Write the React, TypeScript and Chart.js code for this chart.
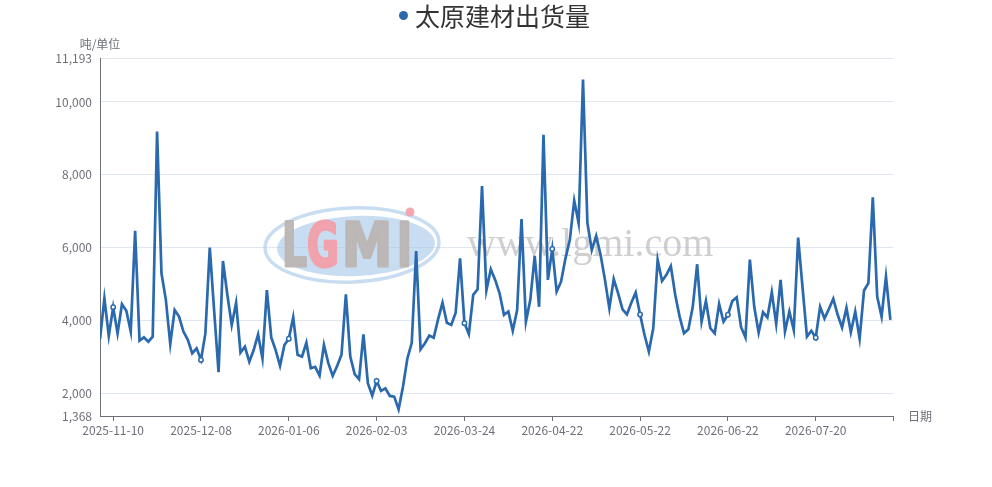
import React, { useEffect, useRef } from "react";
import { Chart, registerables } from "chart.js";

Chart.register(...registerables);

const seriesName = "太原建材出货量";
const yAxisName = "吨/单位";
const xAxisName = "日期";

// x tick labels shown every 20 trading days, starting at point index 3
const tickLabels = [
  "2025-11-10",
  "2025-12-08",
  "2026-01-06",
  "2026-02-03",
  "2026-03-24",
  "2026-04-22",
  "2026-05-22",
  "2026-06-22",
  "2026-07-20",
];
const firstTickIndex = 3;
const tickEvery = 20;
const xAxisEnd = 180.6;

const yTickValues = [1368, 2000, 4000, 6000, 8000, 10000, 11193];

const shipments = [
  3480, 4600, 3570, 4360, 3640, 4440, 4260, 3690, 6460, 3440,
  3530, 3410, 3550, 9190, 5290, 4560, 3350, 4280, 4100, 3690,
  3460, 3090, 3230, 2910, 3640, 6000, 4250, 2570, 5630, 4700,
  3870, 4480, 3110, 3270, 2860, 3180, 3610, 2950, 4830, 3530,
  3180, 2750, 3320, 3490, 4080, 3050, 3000, 3380, 2680, 2720,
  2480, 3320, 2820, 2470, 2740, 3050, 4710, 3000, 2520, 2380,
  3610, 2270, 1930, 2330, 2060, 2130, 1920, 1900, 1550, 2170,
  2950, 3380, 5900, 3200, 3370, 3580, 3520, 4030, 4480, 3930,
  3870, 4210, 5700, 3920, 3620, 4700, 4850, 7690, 4820, 5400,
  5110, 4740, 4150, 4240, 3710, 4280, 6780, 3960, 4560, 5770,
  4370, 9100, 5110, 5960, 4790, 5060, 5700, 6210, 7290, 6670,
  10620, 6680, 5930, 6320, 5800, 5110, 4330, 5130, 4740, 4300,
  4160, 4480, 4760, 4160, 3600, 3140, 3780, 5660, 5080, 5250,
  5490, 4700, 4100, 3640, 3750, 4370, 5540, 3960, 4530, 3780,
  3640, 4450, 3960, 4150, 4530, 4630, 3810, 3530, 5670, 4370,
  3660, 4220, 4080, 4770, 3900, 5110, 3690, 4240, 3730, 6270,
  4900, 3550, 3710, 3520, 4370, 4050, 4310, 4590, 4150, 3800,
  4340, 3670, 4240, 3500, 4820, 5020, 7380, 4650, 4100, 5200,
  4010,
];

const LINE = "#2a69ad";
const AXIS = "#6E7079";
const GRID = "#E0E6F1";
const FONT = '"Noto Sans CJK SC", "Noto Sans", sans-serif';

const isTickIndex = (i: number) =>
  i >= firstTickIndex && (i - firstTickIndex) % tickEvery === 0 &&
  (i - firstTickIndex) / tickEvery < tickLabels.length;

const decorPlugin = {
  id: "decor",
  beforeDatasetsDraw(chart: any) {
    const ctx = chart.ctx as CanvasRenderingContext2D;
    ctx.save();
    // watermark logo ellipse
    ctx.beginPath();
    ctx.ellipse(352, 245, 87, 37, -0.04, 0, Math.PI * 2);
    ctx.strokeStyle = "rgba(165,198,232,0.6)";
    ctx.lineWidth = 3.5;
    ctx.stroke();
    ctx.beginPath();
    ctx.ellipse(356, 246, 79, 30, -0.04, 0, Math.PI * 2);
    ctx.fillStyle = "rgba(170,202,235,0.65)";
    ctx.fill();
    ctx.font = 'bold 60px "DejaVu Sans", sans-serif';
    ctx.textBaseline = "alphabetic";
    ctx.textAlign = "left";
    ctx.lineWidth = 3;
    ctx.lineJoin = "round";
    const letters: [string, number, number, string][] = [
      ["L", 282, 25, "rgba(188,182,180,0.95)"],
      ["G", 307, 32, "rgba(242,160,170,0.95)"],
      ["M", 342, 50, "rgba(188,182,180,0.95)"],
      ["I", 397, 15, "rgba(188,182,180,0.95)"],
    ];
    letters.forEach(([ch, x, w, col]) => {
      ctx.fillStyle = col;
      ctx.strokeStyle = col;
      ctx.fillText(ch, x, 266, w);
      ctx.strokeText(ch, x, 266, w);
    });
    ctx.beginPath();
    ctx.arc(410, 212, 4.5, 0, Math.PI * 2);
    ctx.fillStyle = "rgba(242,160,170,0.92)";
    ctx.fill();
    // watermark url
    ctx.font = '40px "Liberation Serif", serif';
    ctx.fillStyle = "rgba(175,175,175,0.6)";
    ctx.fillText("www.lgmi.com", 467, 256, 262);
    ctx.restore();
  },
  afterDraw(chart: any) {
    const ctx = chart.ctx as CanvasRenderingContext2D;
    ctx.save();
    // legend / title
    ctx.beginPath();
    ctx.arc(403.5, 15.5, 4.5, 0, Math.PI * 2);
    ctx.fillStyle = LINE;
    ctx.fill();
    ctx.font = `25px ${FONT}`;
    ctx.fillStyle = "#333";
    ctx.textAlign = "left";
    ctx.textBaseline = "middle";
    ctx.fillText(seriesName, 415, 16);
    // axis names
    ctx.font = `12px ${FONT}`;
    ctx.fillStyle = AXIS;
    ctx.textAlign = "center";
    ctx.fillText(yAxisName, 100, 44);
    ctx.textAlign = "left";
    ctx.fillText(xAxisName, 908, 416);
    ctx.restore();
  },
};

export default function App() {
  const ref = useRef<HTMLCanvasElement | null>(null);

  useEffect(() => {
    if (!ref.current) return;
    const points = shipments.map((v, i) => ({ x: i, y: v }));
    const chart = new Chart(ref.current, {
      type: "line",
      data: {
        datasets: [
          {
            label: seriesName,
            data: points,
            borderColor: LINE,
            backgroundColor: "#fff",
            borderWidth: 2.7,
            tension: 0,
            pointRadius: (c: any) => (isTickIndex(c.dataIndex) ? 2.2 : 0),
            pointBorderWidth: 1.5,
            pointBorderColor: LINE,
            pointBackgroundColor: "#fff",
            pointHoverRadius: 0,
          },
        ],
      },
      options: {
        responsive: false,
        animation: false,
        devicePixelRatio: 1,
        layout: { padding: { top: 58.6, right: 99, left: 0, bottom: 0 } },
        plugins: {
          legend: { display: false },
          tooltip: { enabled: false },
        },
        scales: {
          x: {
            type: "linear",
            min: 0,
            max: xAxisEnd,
            afterBuildTicks: (scale: any) => {
              const t: any[] = tickLabels.map((_, k) => ({ value: firstTickIndex + k * tickEvery }));
              t.push({ value: xAxisEnd });
              scale.ticks = t;
            },
            afterFit: (scale: any) => {
              scale.height = 71;
            },
            ticks: {
              autoSkip: false,
              maxRotation: 0,
              minRotation: 0,
              padding: 2,
              color: AXIS,
              font: { family: FONT, size: 12 },
              callback: (v: any) => {
                const k = (Number(v) - firstTickIndex) / tickEvery;
                return Number.isInteger(k) && k >= 0 && k < tickLabels.length ? tickLabels[k] : "";
              },
            },
            grid: {
              display: true,
              drawOnChartArea: false,
              drawTicks: true,
              tickLength: 5,
              color: AXIS,
            },
            border: { display: true, color: AXIS, width: 1 },
          },
          y: {
            type: "linear",
            min: yTickValues[0],
            max: yTickValues[yTickValues.length - 1],
            afterBuildTicks: (scale: any) => {
              scale.ticks = yTickValues.map((v) => ({ value: v }));
            },
            afterFit: (scale: any) => {
              scale.width = 100;
            },
            ticks: {
              padding: 8,
              color: AXIS,
              font: { family: FONT, size: 12 },
              callback: (v: any) => Number(v).toLocaleString("en-US"),
            },
            grid: {
              drawTicks: false,
              color: (c: any) => (c.tick && c.tick.value === yTickValues[0] ? "rgba(0,0,0,0)" : GRID),
            },
            border: { display: true, color: AXIS, width: 1 },
          },
        },
      },
      plugins: [decorPlugin],
    } as any);
    return () => chart.destroy();
  }, []);

  return (
    <div style={{ position: "fixed", left: 0, top: 0, width: 992, height: 487, background: "#fff" }}>
      <canvas ref={ref} width={992} height={487} />
    </div>
  );
}
